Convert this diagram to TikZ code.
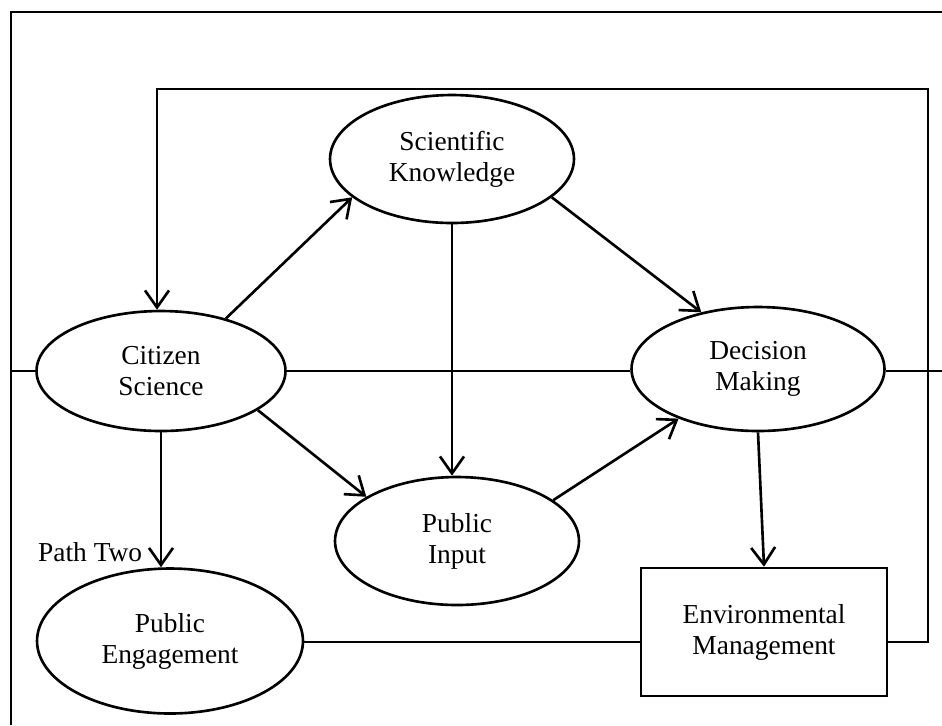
\documentclass[tikz,border=0pt]{standalone}
\usepackage{fontspec}
\setmainfont{Liberation Serif}
\usetikzlibrary{shapes.geometric,arrows.meta}
\begin{document}
\begin{tikzpicture}[x=0.02cm,y=-0.02cm]
	\tikzstyle{every node}=[font=\fontsize{15.6pt}{17.6pt}\selectfont]
	\tikzstyle{oval}=[draw, ellipse, line width=1.5pt, inner sep=0pt, align=center]
	\tikzstyle{box}=[draw, rectangle, line width=1.5pt, inner sep=0pt, align=center]
	\tikzstyle{conn}=[line width=1.5pt]
	\tikzstyle{arr}=[conn, -{Straight Barb[length=3.4mm,width=4.8mm]}]
	
	\useasboundingbox (0,0) rectangle (942,725);
	
	\node[oval, minimum width=4.98cm, minimum height=2.4cm] (cs) at (161,371) {Citizen\\Science};
	\node[oval, minimum width=4.88cm, minimum height=2.56cm] (sk) at (452,159) {Scientific\\Knowledge};
	\node[oval, minimum width=5.06cm, minimum height=2.48cm] (dm) at (758,369) {Decision\\Making};
	\node[oval, minimum width=4.88cm, minimum height=2.56cm] (pi) at (457,541) {Public\\Input};
	\node[oval, minimum width=5.32cm, minimum height=2.9cm] (pe) at (170,641) {Public\\Engagement};
	\node[box, minimum width=4.92cm, minimum height=2.56cm] (em) at (764,632) {Environmental\\Management};
	\node[anchor=base west] (pathtwo) at (32,561) {Path Two};
	
	\coordinate (frBL) at (11,725);
	\coordinate (frTL) at (11,12);
	\coordinate (frTR) at (942,12);
	\coordinate (midL) at (11,371);
	\coordinate (midR) at (942,371);
	\coordinate (fbR) at (928,642);
	\coordinate (fbTop) at (157,89);
	
	% frame and middle line
	\draw[conn] (frBL) -- (frTL) -- (frTR);
	\draw[conn] (midL) -- (cs.west);
	\draw[conn] (cs.east) -- (dm.west |- cs.east);
	\draw[conn] (dm.east |- midR) -- (midR);
	
	% arrows
	\draw[arr] (cs.39) -- (sk.201);
	\draw[arr] (sk.339) -- (dm.135);
	\draw[arr] (sk.south) -- (sk.south |- pi.north);
	\draw[arr] (cs.338) -- (pi.154);
	\draw[arr] (pi.23) -- (dm.212);
	\draw[arr] (cs.south) -- (cs.south |- pe.north);
	\draw[arr] (dm.south) -- (em.north);
	
	% bottom and feedback
	\draw[conn] (pe.east |- fbR) -- (em.west |- fbR);
	\draw[arr] (em.east |- fbR) -- (fbR) |- (fbTop) -- (fbTop |- cs.north);
	
\end{tikzpicture}
\end{document}
